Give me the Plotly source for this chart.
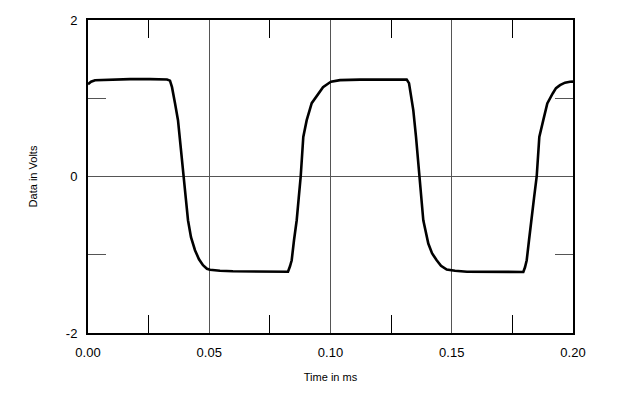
import plotly.graph_objects as go

time_ms = [0.0, 0.00124, 0.00289, 0.00907, 0.01732, 0.02557, 0.03258, 0.03381, 0.03464, 0.03588,
           0.03711, 0.03835, 0.03930, 0.04041, 0.04124, 0.04247, 0.04412, 0.04577, 0.04742, 0.04907,
           0.05031, 0.05443, 0.05979, 0.07093, 0.08247, 0.08330, 0.08400, 0.08495, 0.08606, 0.08689,
           0.08771, 0.08878, 0.09019, 0.09225, 0.09497, 0.09691, 0.09909, 0.10021, 0.10392, 0.11216,
           0.12454, 0.13142, 0.13237, 0.13278, 0.13414, 0.13526, 0.13662, 0.13827, 0.14033, 0.14186,
           0.14379, 0.14557, 0.14792, 0.15134, 0.15629, 0.16990, 0.17951, 0.18021, 0.18091, 0.18186,
           0.18297, 0.18392, 0.18503, 0.18611, 0.18775, 0.18940, 0.19163, 0.19299, 0.19464, 0.19670,
           0.19876, 0.2]
volts = [1.180, 1.212, 1.231, 1.238, 1.244, 1.244, 1.240, 1.225, 1.142, 0.937,
         0.720, 0.336, 0.0, -0.303, -0.559, -0.776, -0.942, -1.058, -1.134, -1.179,
         -1.192, -1.205, -1.211, -1.217, -1.217, -1.147, -1.070, -0.815, -0.559, -0.277,
         0.0, 0.506, 0.720, 0.937, 1.065, 1.142, 1.189, 1.212, 1.231, 1.238,
         1.238, 1.240, 1.193, 1.104, 0.848, 0.506, 0.0, -0.559, -0.857, -0.981,
         -1.070, -1.141, -1.189, -1.205, -1.217, -1.220, -1.220, -1.160, -1.070, -0.815,
         -0.559, -0.277, 0.0, 0.506, 0.720, 0.934, 1.061, 1.129, 1.168, 1.199,
         1.210, 1.212]

x_ticks = [0.0, 0.05, 0.10, 0.15, 0.20]
x_tick_labels = ["0.00", "0.05", "0.10", "0.15", "0.20"]
y_ticks = [-2, 0, 2]
y_tick_labels = ["-2", "0", "2"]

fig = go.Figure()
fig.add_trace(go.Scatter(x=time_ms, y=volts, mode="lines",
                         line=dict(color="black", width=2.6), showlegend=False,
                         hoverinfo="skip"))

font = dict(family="Liberation Sans, Arial, sans-serif", color="black")

fig.update_layout(
    width=611, height=390,
    margin=dict(l=80, r=46, t=12, b=65, autoexpand=False),
    paper_bgcolor="white", plot_bgcolor="white",
    font=font,
    xaxis=dict(
        range=[0, 0.2], tickvals=x_ticks, ticktext=x_tick_labels,
        showgrid=True, gridcolor="#555555", gridwidth=1,
        showline=True, linecolor="black", linewidth=2, mirror="allticks",
        ticks="", zeroline=False, automargin=False,
        minor=dict(tickvals=[0.025, 0.075, 0.125, 0.175], ticks="inside",
                   ticklen=18, tickcolor="black", tickwidth=1, showgrid=False),
        tickfont=dict(size=13), ticklabelstandoff=6,
        title=dict(text="Time in ms", font=dict(size=11), standoff=15),
    ),
    yaxis=dict(
        range=[-2, 2], tickvals=y_ticks, ticktext=y_tick_labels,
        showgrid=True, gridcolor="#555555", gridwidth=1,
        showline=True, linecolor="black", linewidth=2, mirror="allticks",
        ticks="", zeroline=False, automargin=False,
        minor=dict(tickvals=[-1, 1], ticks="inside", ticklen=18,
                   tickcolor="#555555", tickwidth=1, showgrid=False),
        tickfont=dict(size=13), ticklabelstandoff=6,
        title=dict(text="Data in Volts", font=dict(size=11), standoff=26),
    ),
)

fig.write_html("out.html")
